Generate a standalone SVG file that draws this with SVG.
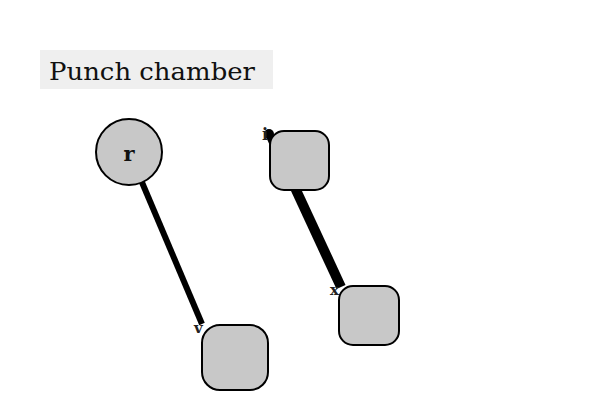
<svg xmlns="http://www.w3.org/2000/svg" width="600" height="400" viewBox="0 0 600 400">
<style>
.node{fill:#c8c8c8;stroke:#000;stroke-width:2}
.edge{stroke:#000;stroke-linecap:butt;fill:none}
.mk{font-family:"DejaVu Serif","Liberation Serif",serif;fill:#222}
</style>
<rect width="600" height="400" fill="#fff"/>
<g id="title">
<rect x="40" y="50" width="233" height="39" fill="#efefef"/>
<text x="49" y="80" font-family="'DejaVu Serif','Liberation Serif',serif" font-size="24" textLength="206" lengthAdjust="spacingAndGlyphs" fill="#111">Punch chamber</text>
</g>
<g id="connectors">
<line class="edge" x1="141" y1="180" x2="202" y2="324" stroke-width="6"/>
<text class="mk" x="194" y="333" font-size="15" font-weight="bold">v</text>
<line class="edge" x1="271" y1="136" x2="341" y2="287" stroke-width="10"/>
<circle cx="269" cy="134" r="5" fill="#000"/>
<text class="mk" x="262" y="140" font-size="16" font-weight="bold">i</text>
<text class="mk" x="330" y="295" font-size="15" font-weight="bold">x</text>
</g>
<g id="node-r">
<circle class="node" cx="129" cy="152" r="33"/>
<text x="129" y="161" text-anchor="middle" font-family="'DejaVu Serif','Liberation Serif',serif" font-size="21" font-weight="bold" fill="#111">r</text>
</g>
<g id="node-a"><rect class="node" x="270" y="131" width="59" height="59" rx="14"/></g>
<g id="node-b"><rect class="node" x="202" y="325" width="66" height="65" rx="18"/></g>
<g id="node-c"><rect class="node" x="339" y="286" width="60" height="59" rx="14"/></g>
</svg>
